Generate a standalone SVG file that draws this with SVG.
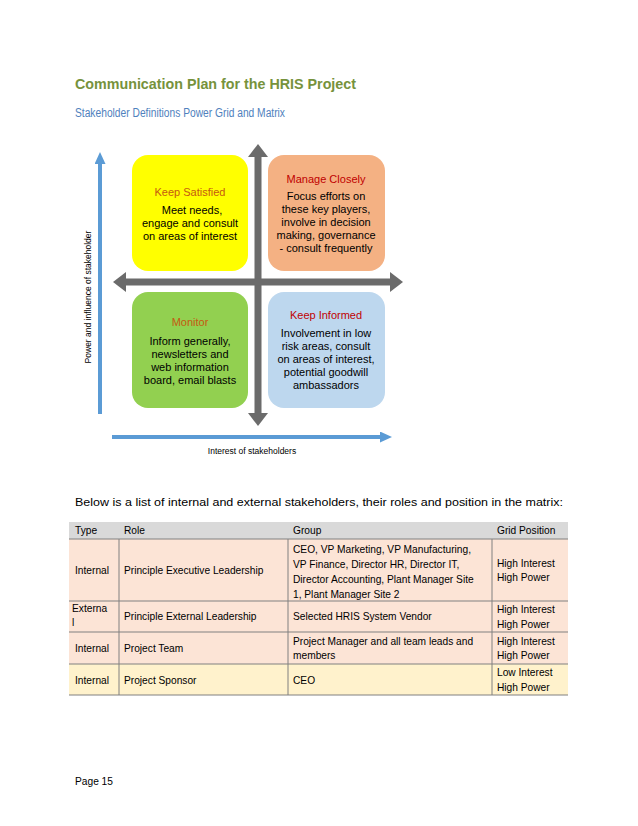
<svg xmlns="http://www.w3.org/2000/svg" width="638" height="826" viewBox="0 0 638 826">
<style>
  .title{font-family:"Liberation Sans",Arial,sans-serif;font-weight:900;font-size:14px;fill:#76923C}
  .sub{font-family:"Liberation Sans",Arial,sans-serif;font-size:12px;fill:#4F81BD}
  .box{stroke:none}
  .bt{font-family:"Liberation Sans",Arial,sans-serif;font-size:11px;text-anchor:middle;fill:#000}
  .hd1{fill:#C55A11}
  .hd2{fill:#C00000}
  .ax{font-family:"Liberation Sans",Arial,sans-serif;font-size:8.5px;fill:#000}
  .body{font-family:"Liberation Sans",Arial,sans-serif;font-size:11px;fill:#000}
  .tt{font-family:"Liberation Sans",Arial,sans-serif;font-size:10.2px;fill:#000}
  .gray{stroke:#6B6B6B;stroke-width:7;fill:none}
  .blue{stroke:#5B9BD5;stroke-width:4;fill:none}
  .rule{stroke:#808080;stroke-width:1}
</style>
<defs>
  <marker id="gh" viewBox="0 0 13 20" markerWidth="13" markerHeight="20" refX="1" refY="10" orient="auto-start-reverse" markerUnits="userSpaceOnUse">
    <path d="M0,0 L13,10 L0,20 z" fill="#6B6B6B"/>
  </marker>
  <marker id="bh" viewBox="0 0 12 11" markerWidth="12" markerHeight="11" refX="1" refY="5.5" orient="auto" markerUnits="userSpaceOnUse">
    <path d="M0,0 L12,5.5 L0,11 z" fill="#5B9BD5"/>
  </marker>
</defs>
<rect width="638" height="826" fill="#fff"/>

<text class="title" x="75" y="89" textLength="281" lengthAdjust="spacingAndGlyphs">Communication Plan for the HRIS Project</text>
<text class="sub" x="75" y="117" textLength="210" lengthAdjust="spacingAndGlyphs">Stakeholder Definitions Power Grid and Matrix</text>

<g id="node-keep-satisfied">
  <rect class="box" x="132" y="155" width="116" height="116" rx="16" fill="#FFFF00"/>
  <text class="bt hd1" x="190" y="196">Keep Satisfied</text>
  <text class="bt" x="192" y="214">Meet needs,</text>
  <text class="bt" x="190" y="227">engage and consult</text>
  <text class="bt" x="190" y="240">on areas of interest</text>
</g>
<g id="node-manage-closely">
  <rect class="box" x="268" y="155" width="117" height="116" rx="16" fill="#F4B183"/>
  <text class="bt hd2" x="326" y="183">Manage Closely</text>
  <text class="bt" x="326" y="200">Focus efforts on</text>
  <text class="bt" x="326" y="213">these key players,</text>
  <text class="bt" x="326" y="226">involve in decision</text>
  <text class="bt" x="326" y="239">making, governance</text>
  <text class="bt" x="326" y="252">- consult frequently</text>
</g>
<g id="node-monitor">
  <rect class="box" x="132" y="292" width="116" height="116" rx="16" fill="#92D050"/>
  <text class="bt hd1" x="190" y="326">Monitor</text>
  <text class="bt" x="190" y="345">Inform generally,</text>
  <text class="bt" x="190" y="358">newsletters and</text>
  <text class="bt" x="190" y="371">web information</text>
  <text class="bt" x="190" y="384">board, email blasts</text>
</g>
<g id="node-keep-informed">
  <rect class="box" x="268" y="292" width="117" height="116" rx="16" fill="#BDD7EE"/>
  <text class="bt hd2" x="326" y="319">Keep Informed</text>
  <text class="bt" x="326" y="337">Involvement in low</text>
  <text class="bt" x="326" y="350">risk areas, consult</text>
  <text class="bt" x="326" y="363">on areas of interest,</text>
  <text class="bt" x="326" y="376">potential goodwill</text>
  <text class="bt" x="326" y="389">ambassadors</text>
</g>

<g id="connectors">
  <line class="gray" x1="258" y1="156" x2="258" y2="414" marker-start="url(#gh)" marker-end="url(#gh)"/>
  <line class="gray" x1="125" y1="282" x2="391" y2="282" marker-start="url(#gh)" marker-end="url(#gh)"/>
  <line class="blue" x1="100" y1="414" x2="100" y2="163" marker-end="url(#bh)"/>
  <line class="blue" x1="112" y1="437" x2="381" y2="437" marker-end="url(#bh)"/>
</g>

<text class="ax" x="91" y="297" text-anchor="middle" transform="rotate(-90 91 297)">Power and influence of stakeholder</text>
<text class="ax" x="252" y="454" text-anchor="middle">Interest of stakeholders</text>

<text class="body" x="75" y="506" textLength="488" lengthAdjust="spacingAndGlyphs">Below is a list of internal and external stakeholders, their roles and position in the matrix:</text>

<g id="table">
  <rect x="69" y="522" width="499" height="17" fill="#D9D9D9"/>
  <rect x="69" y="539" width="499" height="125" fill="#FCE4D6"/>
  <rect x="69" y="664" width="499" height="31" fill="#FFF2CC"/>
  <line class="rule" x1="69" y1="539" x2="568" y2="539"/>
  <line class="rule" x1="69" y1="601" x2="568" y2="601"/>
  <line class="rule" x1="69" y1="632" x2="568" y2="632"/>
  <line class="rule" x1="69" y1="664" x2="568" y2="664"/>
  <line class="rule" x1="69" y1="695" x2="568" y2="695"/>
  <line class="rule" x1="119" y1="539" x2="119" y2="695"/>
  <line class="rule" x1="288" y1="539" x2="288" y2="695"/>
  <line class="rule" x1="492" y1="539" x2="492" y2="695"/>

  <text class="tt" x="75" y="534">Type</text>
  <text class="tt" x="124" y="534">Role</text>
  <text class="tt" x="293" y="534">Group</text>
  <text class="tt" x="497" y="534">Grid Position</text>

  <text class="tt" x="75" y="574">Internal</text>
  <text class="tt" x="124" y="574">Principle Executive Leadership</text>
  <text class="tt" x="293" y="553">CEO, VP Marketing, VP Manufacturing,</text>
  <text class="tt" x="293" y="568">VP Finance, Director HR, Director IT,</text>
  <text class="tt" x="293" y="583">Director Accounting, Plant Manager Site</text>
  <text class="tt" x="293" y="598">1, Plant Manager Site 2</text>
  <text class="tt" x="497" y="567">High Interest</text>
  <text class="tt" x="497" y="581">High Power</text>

  <text class="tt" x="72" y="612">Externa</text>
  <text class="tt" x="72" y="626">l</text>
  <text class="tt" x="124" y="620">Principle External Leadership</text>
  <text class="tt" x="293" y="620">Selected HRIS System Vendor</text>
  <text class="tt" x="497" y="613">High Interest</text>
  <text class="tt" x="497" y="628">High Power</text>

  <text class="tt" x="75" y="652">Internal</text>
  <text class="tt" x="124" y="652">Project Team</text>
  <text class="tt" x="293" y="645">Project Manager and all team leads and</text>
  <text class="tt" x="293" y="659">members</text>
  <text class="tt" x="497" y="645">High Interest</text>
  <text class="tt" x="497" y="659">High Power</text>

  <text class="tt" x="75" y="684">Internal</text>
  <text class="tt" x="124" y="684">Project Sponsor</text>
  <text class="tt" x="293" y="684">CEO</text>
  <text class="tt" x="497" y="676">Low Interest</text>
  <text class="tt" x="497" y="691">High Power</text>
</g>

<text class="tt" x="75" y="785">Page 15</text>
</svg>
